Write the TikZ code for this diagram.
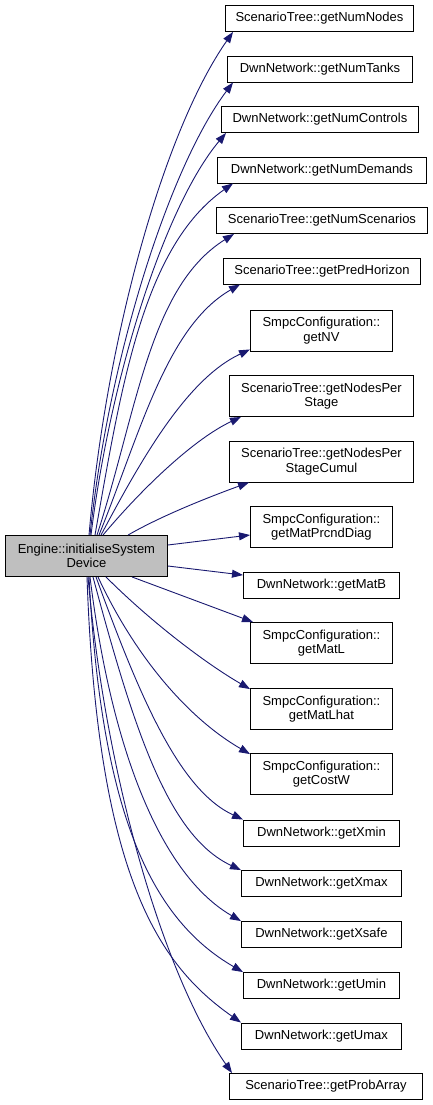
\documentclass[tikz,border=0pt]{standalone}
\usepackage{fontspec}
\setmainfont{Liberation Sans}
\usetikzlibrary{arrows.meta}
\definecolor{callblue}{HTML}{191970}
\definecolor{fngray}{HTML}{BFBFBF}

\begin{document}
\begin{tikzpicture}
    [x=1pt, y=1pt,
    call/.style={draw=callblue, line width=0.9pt, -{Triangle[length=11pt,width=8pt]}},
    fn/.style={draw=black, line width=0.9pt, anchor=west, minimum height=26pt, inner sep=0pt,
        align=center, font=\fontsize{13}{14.5}\selectfont},
    fntwo/.style={fn, minimum height=41pt}]
        \useasboundingbox (0,0) rectangle (432,-1105);

        %% caller
        \node[fntwo, fill=fngray, minimum width=162pt] (eng) at (5,-556) {Engine::initialiseSystem\\Device};

        %% callees
        \node[fn, minimum width=188pt] (numNodes) at (225,-18.5) {ScenarioTree::getNumNodes};
        \node[fn, minimum width=185pt] (numTanks) at (227,-69) {DwnNetwork::getNumTanks};
        \node[fn, minimum width=197pt] (numControls) at (221,-119.5) {DwnNetwork::getNumControls};
        \node[fn, minimum width=209pt] (numDemands) at (217,-170) {DwnNetwork::getNumDemands};
        \node[fn, minimum width=211pt] (numScen) at (216,-220.5) {ScenarioTree::getNumScenarios};
        \node[fn, minimum width=197pt] (predHor) at (223,-271) {ScenarioTree::getPredHorizon};
        \node[fntwo, minimum width=142pt] (nv) at (250,-330.5) {SmpcConfiguration::\\getNV};
        \node[fntwo, minimum width=184pt] (nodesStage) at (229,-396) {ScenarioTree::getNodesPer\\Stage};
        \node[fntwo, minimum width=184pt] (nodesCumul) at (229,-461.5) {ScenarioTree::getNodesPer\\StageCumul};
        \node[fntwo, minimum width=142pt] (prcnd) at (250,-527) {SmpcConfiguration::\\getMatPrcndDiag};
        \node[fn, minimum width=156pt] (matB) at (243,-585.5) {DwnNetwork::getMatB};
        \node[fntwo, minimum width=142pt] (matL) at (250,-643) {SmpcConfiguration::\\getMatL};
        \node[fntwo, minimum width=142pt] (matLhat) at (250,-709) {SmpcConfiguration::\\getMatLhat};
        \node[fntwo, minimum width=142pt] (costW) at (250,-774) {SmpcConfiguration::\\getCostW};
        \node[fn, minimum width=156pt] (xmin) at (243,-833) {DwnNetwork::getXmin};
        \node[fn, minimum width=160pt] (xmax) at (241,-883.5) {DwnNetwork::getXmax};
        \node[fn, minimum width=160pt] (xsafe) at (241,-934.5) {DwnNetwork::getXsafe};
        \node[fn, minimum width=156pt] (umin) at (243,-985.5) {DwnNetwork::getUmin};
        \node[fn, minimum width=160pt] (umax) at (241,-1036) {DwnNetwork::getUmax};
        \node[fn, minimum width=193pt] (probArr) at (229,-1086.5) {ScenarioTree::getProbArray};

        %% calls upwards
        \draw[call] ([xshift=84pt]eng.north west) to[out=85, in=235, out distance=200pt, in distance=120pt] ([xshift=8pt]numNodes.south west);
        \draw[call] ([xshift=85pt]eng.north west) to[out=84, in=233, out distance=180pt, in distance=105pt] ([xshift=6pt]numTanks.south west);
        \draw[call] ([xshift=86pt]eng.north west) to[out=83, in=230, out distance=160pt, in distance=95pt] ([xshift=5pt]numControls.south west);
        \draw[call] ([xshift=90pt]eng.north west) to[out=80, in=215, out distance=150pt, in distance=110pt] ([xshift=16pt]numDemands.south west);
        \draw[call] ([xshift=92pt]eng.north west) to[out=72, in=212, out distance=130pt, in distance=100pt] ([xshift=18pt]numScen.south west);
        \draw[call] ([xshift=94pt]eng.north west) to[out=68, in=210, out distance=110pt, in distance=85pt] ([xshift=17pt]predHor.south west);
        \draw[call] ([xshift=96pt]eng.north west) to[out=62, in=205, out distance=85pt, in distance=70pt] ([yshift=2pt]nv.south west);
        \draw[call] ([xshift=98pt]eng.north west) to[out=50, in=205, out distance=65pt, in distance=50pt] ([xshift=12pt]nodesStage.south west);
        \draw[call] ([xshift=123pt]eng.north west) to[out=30, in=200, out distance=40pt, in distance=40pt] ([xshift=20pt]nodesCumul.south west);

        %% calls to the side
        \draw[call] ([yshift=11pt]eng.east) -- ([yshift=-8pt]prcnd.west);
        \draw[call] ([yshift=-10pt]eng.east) -- ([yshift=-3pt]matB.north west);
        \draw[call] ([xshift=127pt]eng.south west) -- ([xshift=3pt]matL.north west);

        %% calls downwards
        \draw[call] ([xshift=101pt]eng.south west) to[out=-45, in=150, out distance=65pt, in distance=50pt] ([yshift=-1pt]matLhat.north west);
        \draw[call] ([xshift=93pt]eng.south west) to[out=-65, in=150, out distance=90pt, in distance=70pt] ([yshift=-1pt]costW.north west);
        \draw[call] ([xshift=91pt]eng.south west) to[out=-70, in=155, out distance=130pt, in distance=70pt] (xmin.north west);
        \draw[call] ([xshift=88pt]eng.south west) to[out=-75, in=155, out distance=160pt, in distance=80pt] (xmax.north west);
        \draw[call] ([xshift=85pt]eng.south west) to[out=-83, in=150, out distance=180pt, in distance=90pt] (xsafe.north west);
        \draw[call] ([xshift=84pt]eng.south west) to[out=-87, in=150, out distance=230pt, in distance=110pt] (umin.north west);
        \draw[call] ([xshift=82pt]eng.south west) to[out=-88, in=145, out distance=300pt, in distance=100pt] (umax.north west);
        \draw[call] ([xshift=83pt]eng.south west) to[out=-85, in=125, out distance=200pt, in distance=120pt] ([xshift=3pt]probArr.north west);
    \end{tikzpicture}
\end{document}
